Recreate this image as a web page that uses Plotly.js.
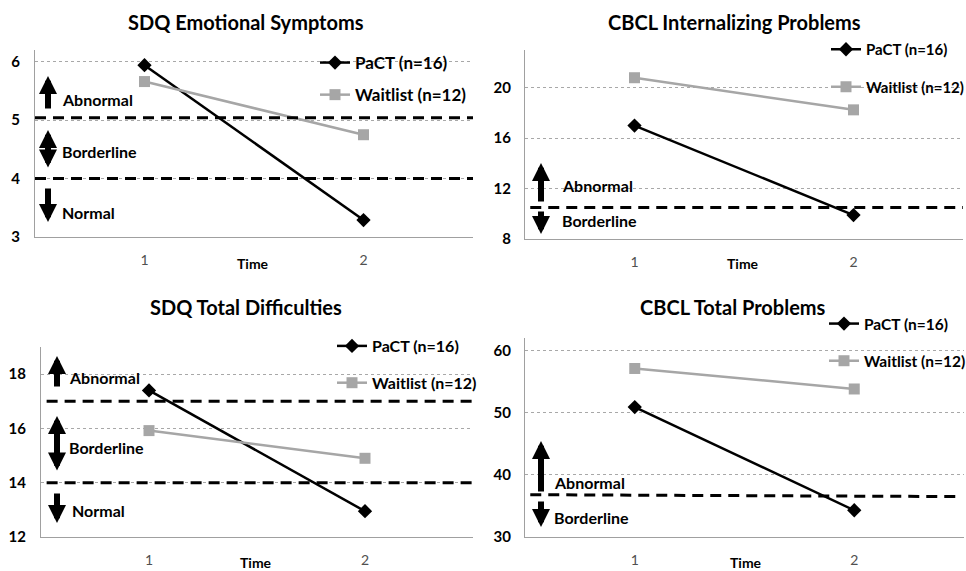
<!DOCTYPE html>
<html>
<head>
<meta charset="utf-8">
<script src="https://cdn.plot.ly/plotly-3.0.1.min.js"></script>
<style>html,body{margin:0;padding:0;background:#fff;overflow:hidden}#chart{width:1000px;height:571px}</style>
</head>
<body>
<div id="chart"></div>
<script>
// ---------- data ----------
const times = [1, 2];
const timeLabels = ['1', '2'];
const seriesNames = ['PaCT (n=16)', 'Waitlist (n=12)'];
const panelTitles = ['SDQ Emotional Symptoms', 'CBCL Internalizing Problems', 'SDQ Total Difficulties', 'CBCL Total Problems'];

const sdqEmoPaCT = [5.94, 3.29];
const sdqEmoWait = [5.66, 4.75];
const cbclIntPaCT = [17.0, 9.9];
const cbclIntWait = [20.8, 18.25];
const sdqTotPaCT = [17.4, 12.95];
const sdqTotWait = [15.92, 14.9];
const cbclTotPaCT = [50.9, 34.3];
const cbclTotWait = [57.1, 53.8];

// clinical cutoffs (left value, right value)
const sdqEmoCutoffs = [[5.04, 5.04], [4, 4]];
const cbclIntCutoffs = [[10.5, 10.5]];
const sdqTotCutoffs = [[17, 17], [14, 14]];
const cbclTotCutoffs = [[36.8, 36.5]];

const sdqEmoTicks = [3, 4, 5, 6];
const cbclIntTicks = [8, 12, 16, 20];
const sdqTotTicks = [12, 14, 16, 18];
const cbclTotTicks = [30, 40, 50, 60];

// ---------- layout helpers ----------
// paper is a little wider than the 966px window so legends may run off the right edge (as in the original)
const W = 1000, H = 571;
const px = v => v / W;
const py = v => 1 - v / H;
const FONT = 'Lato, "Open Sans", sans-serif';
const BLACK = '#000000', GREY = '#a6a6a6';

const panels = [
  {pact: sdqEmoPaCT, wait: sdqEmoWait, cut: sdqEmoCutoffs, ticks: sdqEmoTicks, range: [3, 6.2],
   box: [35, 473, 50, 237], title: [246, 22], time: [253, 263], legend: [315, 45], gap: 7, lsize: 17},
  {pact: cbclIntPaCT, wait: cbclIntWait, cut: cbclIntCutoffs, ticks: cbclIntTicks, range: [8, 23],
   box: [525, 963, 50, 239], title: [734, 22], time: [743, 263], legend: [826, 33], gap: 15, lsize: 15},
  {pact: sdqTotPaCT, wait: sdqTotWait, cut: sdqTotCutoffs, ticks: sdqTotTicks, range: [12, 19],
   box: [41, 473, 347, 537], title: [246, 307], time: [256, 562], legend: [332, 329], gap: 13, lsize: 16},
  {pact: cbclTotPaCT, wait: cbclTotWait, cut: cbclTotCutoffs, ticks: cbclTotTicks, range: [30, 62],
   box: [525, 964, 338, 537], title: [733, 307], time: [746, 562], legend: [824, 307], gap: 14, lsize: 15.5}
];

const data = [];
const layout = {
  width: W, height: H,
  margin: {l: 0, r: 0, t: 0, b: 0},
  paper_bgcolor: '#fff', plot_bgcolor: '#fff',
  font: {family: FONT, color: BLACK},
  shapes: [], annotations: []
};

panels.forEach((p, i) => {
  const n = i === 0 ? '' : String(i + 1);
  const xa = 'xaxis' + n, ya = 'yaxis' + n;
  const lg = 'legend' + n;
  const [x0, x1, yTop, yBot] = p.box;
  layout[xa] = {
    domain: [px(x0), px(x1)], anchor: 'y' + n,
    range: [0.5, 2.5], tickvals: times, ticktext: timeLabels,
    showgrid: false, zeroline: false, showline: true, linecolor: '#a0a0a0', linewidth: 1,
    ticks: '', ticklabelstandoff: 10,
    tickfont: {family: FONT, size: 14, color: '#505050'}, fixedrange: true
  };
  layout[ya] = {
    domain: [py(yBot), py(yTop)], anchor: 'x' + n,
    range: p.range, tickvals: p.ticks,
    showgrid: true, gridcolor: '#a8a8a8', griddash: 'dot', gridwidth: 1,
    zeroline: false, showline: true, linecolor: '#a0a0a0', linewidth: 1,
    ticks: '', ticklabelstandoff: (i % 2 === 0) ? 11 : 10,
    tickfont: {family: FONT, size: 15, color: BLACK, weight: 'bold'}, fixedrange: true
  };
  layout[lg] = {
    x: px(p.legend[0]), y: py(p.legend[1]), xanchor: 'left', yanchor: 'top',
    bgcolor: 'rgba(0,0,0,0)', borderwidth: 0, itemwidth: 30,
    traceorder: 'grouped', tracegroupgap: p.gap,
    font: {family: FONT, size: p.lsize, color: BLACK, weight: 'bold'}
  };
  data.push({
    x: times, y: p.pact, type: 'scatter', mode: 'lines+markers', name: seriesNames[0],
    xaxis: 'x' + n, yaxis: 'y' + n, legend: lg, legendgroup: 'a' + i,
    line: {color: BLACK, width: 2.5}, marker: {symbol: 'diamond', size: 11, color: BLACK},
    hoverinfo: 'skip'
  });
  data.push({
    x: times, y: p.wait, type: 'scatter', mode: 'lines+markers', name: seriesNames[1],
    xaxis: 'x' + n, yaxis: 'y' + n, legend: lg, legendgroup: 'b' + i,
    line: {color: GREY, width: 2.5}, marker: {symbol: 'square', size: 11, color: GREY},
    hoverinfo: 'skip'
  });
  // cutoff dashed lines
  p.cut.forEach(c => {
    layout.shapes.push({
      type: 'line', xref: 'x' + n + ' domain', yref: 'y' + n,
      x0: (i === 2 ? 0.013 : (i % 2 === 1 ? 0.012 : 0)), x1: (i === 3 ? 0.985 : 1), y0: c[0], y1: c[1],
      line: {color: BLACK, width: 3, dash: '11px,7px'}, layer: 'above'
    });
  });
  // panel title
  layout.annotations.push({
    xref: 'paper', yref: 'paper', x: px(p.title[0]), y: py(p.title[1]),
    xanchor: 'center', yanchor: 'middle', showarrow: false, text: panelTitles[i],
    font: {family: FONT, size: 20, color: BLACK, weight: 'bold'}
  });
  // x axis title
  layout.annotations.push({
    xref: 'paper', yref: 'paper', x: px(p.time[0]), y: py(p.time[1]),
    xanchor: 'center', yanchor: 'middle', showarrow: false, text: 'Time',
    font: {family: FONT, size: 14, color: BLACK, weight: 'bold'}
  });
});

// region labels
const zoneLabels = [
  ['Abnormal', 60, 99], ['Borderline', 60, 151], ['Normal', 60, 212],
  ['Abnormal', 560, 185], ['Borderline', 560, 221],
  ['Abnormal', 67, 377], ['Borderline', 67, 447], ['Normal', 70, 510],
  ['Abnormal', 552, 482], ['Borderline', 552, 517]
];
zoneLabels.forEach(z => layout.annotations.push({
  xref: 'paper', yref: 'paper', x: px(z[1]), y: py(z[2]), xanchor: 'left', yanchor: 'middle',
  showarrow: false, text: z[0], font: {family: FONT, size: 16, color: BLACK, weight: 'bold'}
}));

// white text-box / legend-box backgrounds that interrupt gridlines
[[551, 657, 180, 196], [549, 648, 466, 482], [50, 160, 366, 381],
 [310, 473, 56, 68], [823, 964, 82, 94], [333, 473, 367, 379], [825, 964, 344, 356]].forEach(b => layout.shapes.push({
  type: 'rect', xref: 'paper', yref: 'paper', x0: px(b[0]), x1: px(b[1]), y0: py(b[3]), y1: py(b[2]),
  fillcolor: '#ffffff', line: {width: 0}, layer: 'between'
}));

// block arrows: [x, top, bottom, kind]  kind: up, down, both
const arrows = [
  [48, 73, 110, 'up'], [48, 127, 172, 'both'], [48, 187, 225, 'down'],
  [541, 160, 203, 'up'], [541, 210, 237, 'down'],
  [57, 353, 388, 'up'], [57, 413, 475, 'both'], [57, 492, 526, 'down'],
  [541, 438, 493, 'up'], [541, 500, 530, 'down']
];
arrows.forEach(a => {
  const [x, top, bot, kind] = a;
  const headAtTop = kind !== 'down';
  const tipY = headAtTop ? top : bot;
  const tailY = headAtTop ? bot : top;
  const ann = {
    xref: 'paper', yref: 'paper', x: px(x), y: py(tipY + (headAtTop ? 3 : -3)),
    axref: 'pixel', ayref: 'pixel', ax: 0, ay: (tailY - tipY) + (headAtTop ? -3 : 3),
    text: '', showarrow: true, arrowhead: 2, arrowsize: 0.6, arrowwidth: 6, arrowcolor: BLACK
  };
  if (kind === 'both') {
    ann.arrowside = 'end+start';
    ann.startarrowhead = 2;
    ann.startarrowsize = 0.6;
    ann.ay = (bot - top) - 6;
  }
  layout.annotations.push(ann);
});

Plotly.newPlot('chart', data, layout, {staticPlot: true, displayModeBar: false});
</script>
</body>
</html>
